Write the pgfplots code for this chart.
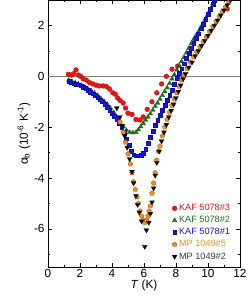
\documentclass[border=0pt]{standalone}
\usepackage{pgfplots}
\pgfplotsset{compat=1.18}
\usetikzlibrary{plotmarks}
\usepackage{fontspec}
\setmainfont{Liberation Sans}
\definecolor{cred}{RGB}{240,20,20}
\definecolor{cgreen}{RGB}{20,120,20}
\definecolor{cblue}{RGB}{20,20,235}
\definecolor{corange}{RGB}{250,140,20}
\definecolor{cblack}{RGB}{10,10,10}
\begin{document}
\begin{tikzpicture}
\begin{axis}[
  scale only axis, width=192bp, height=267bp,
  xmin=0, xmax=12, ymin=-7.5, ymax=3,
  xtick={0,2,...,12}, ytick={-6,-4,-2,0,2},
  minor xtick={1,3,...,11}, minor ytick={-7,-5,-3,-1,1,3},
  tick align=inside, major tick length=4bp, minor tick length=2bp,
  xtick pos=both, ytick pos=both,
  every tick/.style={black, line width=0.5pt},
  axis line style={line width=0.6pt},
  /pgf/number format/assume math mode=true,
  tick label style={font=\fontsize{11.8}{13}\selectfont},
  xticklabel style={yshift=1bp},
  label style={font=\fontsize{11.8}{13}\selectfont},
  xlabel={\textit{T} (K)},
  ylabel={α\textsubscript{b} (10\textsuperscript{-6} K\textsuperscript{-1})},
  xlabel style={yshift=4.5bp},
  ylabel style={yshift=-3bp},
  legend style={draw=none, fill=none, at={(axis cs:7.75,-4.95)}, anchor=north west,
     font=\fontsize{9.2}{10}\selectfont, row sep=0.2pt, inner sep=0pt},
  legend cell align=left,
  legend image code/.code={\draw[#1] plot coordinates {(0.18cm,0cm)};},
]
\addplot[gray, line width=0.6pt, forget plot] coordinates {(0,0) (12,0)};
\addplot[only marks, mark=*, mark size=2.4bp, color=cred, mark options={fill=cred, draw=cred!70!black, line width=0.3pt}] coordinates {
(1.27,0.08)(1.45,0.05)(1.6,0.1)(1.75,0.25)(1.9,0.05)(2.05,0)(2.2,-0.1)(2.4,-0.15)(2.6,-0.25)(2.8,-0.3)(3.0,-0.35)(3.2,-0.38)(3.45,-0.38)(3.65,-0.4)(3.85,-0.5)(4.05,-0.65)(4.2,-0.7)(4.35,-0.85)(4.5,-0.95)(4.7,-1.05)(4.85,-1.25)(5.0,-1.45)(5.25,-1.5)(5.5,-1.7)(5.75,-1.72)(5.95,-1.6)(6.2,-1.3)(6.5,-1.0)(6.8,-0.65)(7.1,-0.3)(7.4,0.0)(7.75,0.28)(8.1,0.4)(11.2,2.65)
};
\addlegendentry{\textcolor{cred}{KAF 5078\#3}}
\addplot[only marks, mark=triangle*, mark size=2.6bp, color=cgreen, mark options={fill=cgreen, draw=cgreen!70!black, line width=0.3pt}] coordinates {
(1.3,-0.15)(1.5,-0.2)(1.7,-0.25)(1.9,-0.3)(2.1,-0.35)(2.3,-0.42)(2.5,-0.5)(2.7,-0.57)(2.9,-0.65)(3.1,-0.75)(3.3,-0.87)(3.5,-0.98)(3.7,-1.1)(3.9,-1.25)(4.1,-1.42)(4.3,-1.6)(4.5,-1.8)(4.7,-1.98)(4.9,-2.12)(5.1,-2.2)(5.3,-2.22)(5.5,-2.2)(5.65,-2.1)(5.8,-1.98)(5.95,-1.85)(6.1,-1.72)(6.25,-1.6)(6.4,-1.47)(6.55,-1.33)(6.7,-1.18)(6.85,-1.05)(7.0,-0.9)(7.15,-0.75)(7.3,-0.6)(7.45,-0.45)(7.6,-0.28)(7.75,-0.1)(7.9,0.07)(8.05,0.25)(8.2,0.42)(8.35,0.58)(8.5,0.75)(8.65,0.92)(8.8,1.1)(8.95,1.28)(9.1,1.45)(9.25,1.6)(9.4,1.75)(9.55,1.92)(9.7,2.1)(9.85,2.28)(10.0,2.45)(10.15,2.65)(10.3,2.85)
};
\addlegendentry{\textcolor{cgreen}{KAF 5078\#2}}
\addplot[only marks, mark=square*, mark size=1.9bp, color=cblue, mark options={fill=cblue, draw=cblue!70!black, line width=0.3pt}] coordinates {
(1.3,-0.2)(1.45,-0.25)(1.6,-0.28)(1.75,-0.3)(1.9,-0.33)(2.05,-0.37)(2.2,-0.42)(2.35,-0.48)(2.5,-0.55)(2.65,-0.62)(2.8,-0.68)(2.95,-0.75)(3.1,-0.83)(3.25,-0.92)(3.4,-1.0)(3.55,-1.1)(3.7,-1.2)(3.85,-1.32)(4.0,-1.45)(4.15,-1.57)(4.3,-1.7)(4.45,-1.85)(4.6,-2.0)(4.75,-2.2)(4.9,-2.45)(5.05,-2.7)(5.2,-2.95)(5.35,-3.08)(5.5,-3.12)(5.65,-3.12)(5.8,-3.1)(5.95,-3.02)(6.1,-2.85)(6.25,-2.62)(6.4,-2.38)(6.55,-2.15)(6.7,-1.92)(6.85,-1.72)(7.0,-1.52)(7.15,-1.32)(7.3,-1.12)(7.45,-0.95)(7.6,-0.75)(7.75,-0.55)(7.9,-0.3)(8.05,-0.08)(8.2,0.12)(8.35,0.3)(8.5,0.5)(8.65,0.7)(8.8,0.9)(8.95,1.1)(9.1,1.3)(9.25,1.5)(9.4,1.68)(9.55,1.87)(9.7,2.06)(9.85,2.25)(10.0,2.45)(10.15,2.65)(10.3,2.85)(10.4,3.0)
};
\addlegendentry{\textcolor{cblue}{KAF 5078\#1}}
\addplot[only marks, mark=pentagon*, mark size=2.5bp, color=corange, mark options={fill=corange, draw=corange!60!black, line width=0.3pt}] coordinates {
(4.5,-1.8)(4.7,-2.2)(4.85,-2.6)(5.0,-3.05)(5.15,-3.45)(5.25,-3.8)(5.35,-4.15)(5.45,-4.45)(5.55,-4.75)(5.65,-5.0)(5.75,-5.3)(5.85,-5.5)(5.95,-5.65)(6.05,-5.75)(6.15,-5.65)(6.25,-5.5)(6.32,-5.3)(6.4,-5.1)(6.5,-4.6)(6.6,-4.2)(6.7,-3.8)(6.8,-3.3)(6.9,-2.95)(7.0,-2.75)(7.15,-2.35)(7.3,-2.0)(7.45,-1.7)(7.6,-1.42)(7.75,-1.15)(7.9,-0.9)(8.05,-0.65)(8.2,-0.4)(8.35,-0.15)(8.5,0.05)(8.7,0.3)(8.9,0.55)(9.1,0.75)(9.3,0.95)(9.5,1.15)(9.7,1.35)(9.9,1.55)(10.1,1.75)(10.3,1.95)(10.5,2.15)(10.7,2.35)(10.9,2.55)(11.1,2.72)(11.3,2.9)
};
\addlegendentry{\textcolor{corange}{MP 1049\#5}}
\addplot[only marks, mark=triangle*, mark size=2.8bp, color=cblack, mark options={fill=cblack, draw=cblack, rotate=180, line width=0.3pt}] coordinates {
(4.3,-1.25)(4.5,-1.6)(4.65,-1.95)(4.8,-2.35)(4.95,-2.8)(5.1,-3.25)(5.25,-3.75)(5.35,-4.2)(5.5,-4.7)(5.6,-5.05)(5.7,-5.35)(5.85,-5.7)(6.05,-6.7)(6.15,-6.05)(6.3,-5.75)(6.4,-5.4)(6.5,-4.95)(6.6,-4.4)(6.7,-3.9)(6.8,-3.4)(6.95,-2.95)(7.1,-2.55)(7.25,-2.2)(7.4,-1.9)(7.55,-1.6)(7.7,-1.35)(7.85,-1.1)(8.0,-0.85)(8.15,-0.6)(8.3,-0.35)(8.45,-0.1)(8.6,0.1)(8.8,0.35)(9.0,0.55)(9.2,0.8)(9.4,1.0)(9.6,1.2)(9.8,1.4)(10.0,1.6)(10.2,1.8)(10.4,2.0)(10.6,2.2)(10.8,2.4)(11.0,2.6)(11.2,2.8)(11.4,3.0)
};
\addlegendentry{\textcolor{cblack!80}{MP 1049\#2}}
\end{axis}
\pgfresetboundingbox
\useasboundingbox (-48bp,-30bp) rectangle (201bp,267bp);
\end{tikzpicture}
\end{document}
